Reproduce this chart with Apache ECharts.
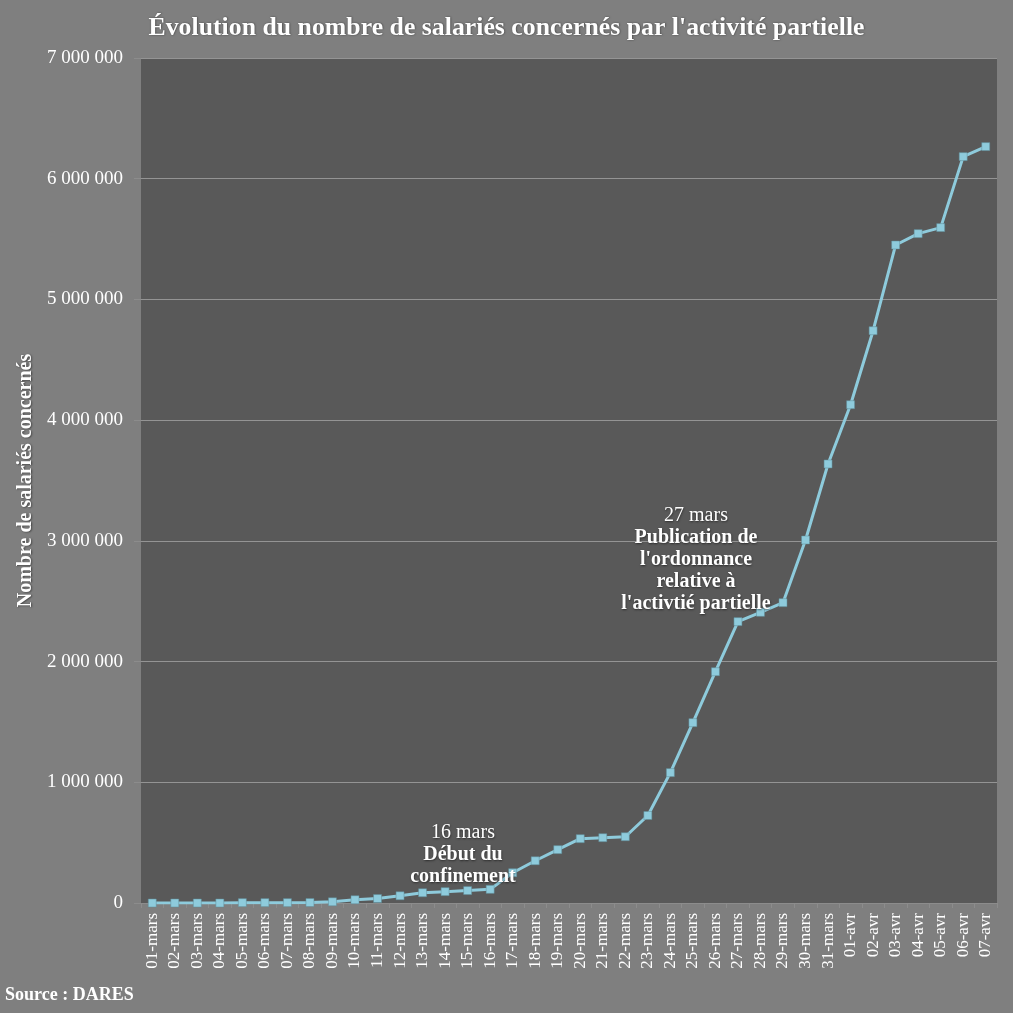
<!DOCTYPE html>
<html>
<head>
<meta charset="utf-8">
<script src="https://cdn.jsdelivr.net/npm/echarts@6/dist/echarts.min.js"></script>
<style>
html,body{margin:0;padding:0;background:#7f7f7f;}
#c{width:1013px;height:1013px;}
</style>
</head>
<body>
<div id="c"></div>
<script>
const categories = ['01-mars','02-mars','03-mars','04-mars','05-mars','06-mars','07-mars','08-mars','09-mars','10-mars',
  '11-mars','12-mars','13-mars','14-mars','15-mars','16-mars','17-mars','18-mars','19-mars','20-mars',
  '21-mars','22-mars','23-mars','24-mars','25-mars','26-mars','27-mars','28-mars','29-mars','30-mars',
  '31-mars','01-avr','02-avr','03-avr','04-avr','05-avr','06-avr','07-avr'];
const salaries = [0,0,0,0,3000,3000,3000,4000,10000,27000,
  37000,60000,85000,94000,103000,113000,251000,350000,442000,533000,
  541000,549000,725000,1080000,1494000,1916000,2331000,2408000,2488000,3007000,
  3637000,4128000,4741000,5451000,5545000,5595000,6183000,6266000];
const yTicks = {min:0, max:7000000, interval:1000000};
const title = "Évolution du nombre de salariés concernés par l'activité partielle";
const yName = 'Nombre de salariés concernés';
const source = 'Source : DARES';
const note1 = ['16 mars','Début du','confinement'];
const note2 = ['27 mars','Publication de',"l'ordonnance",'relative à',"l'activtié partielle"];

const F = 'Liberation Serif';
const shadow = {textShadowColor:'rgba(0,0,0,0.5)', textShadowBlur:2, textShadowOffsetX:0.5, textShadowOffsetY:0.5};

function fmt(v){ return String(v).replace(/\B(?=(\d{3})+(?!\d))/g,' '); }
function noteText(lines){
  return lines.map((l,i)=> i===0 ? '{a|'+l+'}' : '{b|'+l+'}').join('\n');
}
const rich = {
  a:{fontFamily:F, fontSize:20, fill:'#ffffff', lineHeight:22, ...shadow},
  b:{fontFamily:F, fontSize:20, fontWeight:'bold', fill:'#ffffff', lineHeight:22, ...shadow}
};

const chart = echarts.init(document.getElementById('c'), null, {renderer:'canvas'});
chart.setOption({
  backgroundColor:'#7f7f7f',
  animation:false,
  title:{
    text:title, left:'center', top:10,
    textStyle:{fontFamily:F, fontSize:25.8, fontWeight:'bold', color:'#ffffff', ...shadow}
  },
  grid:{left:141, right:16, top:58, bottom:110, show:true, backgroundColor:'#595959', borderWidth:0},
  xAxis:{
    type:'category', data:categories, boundaryGap:true,
    axisLine:{show:true, lineStyle:{color:'#8c8c8c', width:1}},
    axisTick:{show:true, length:5, interval:0, lineStyle:{color:'#8c8c8c'}},
    axisLabel:{interval:0, rotate:90, margin:10, fontFamily:F, fontSize:17, color:'#ffffff'}
  },
  yAxis:{
    type:'value', min:yTicks.min, max:yTicks.max, interval:yTicks.interval,
    name:yName, nameLocation:'middle', nameGap:101, nameRotate:90,
    nameTextStyle:{fontFamily:F, fontSize:20, fontWeight:'bold', color:'#ffffff', ...shadow},
    axisLine:{show:false},
    axisTick:{show:true, length:7, lineStyle:{color:'#8c8c8c'}},
    axisLabel:{margin:18, fontFamily:F, fontSize:19, color:'#ffffff', formatter:fmt},
    splitLine:{show:true, lineStyle:{color:'#949494', width:1}}
  },
  series:[{
    type:'line', data:salaries,
    symbol:'rect', symbolSize:8,
    lineStyle:{color:'#8ecbdc', width:3},
    itemStyle:{color:'#8ecbdc', borderColor:'#5f8c99', borderWidth:0.5},
    z:3
  }],
  graphic:[
    {type:'text', left:5, top:986, style:{text:source, fontFamily:F, fontSize:18, fontWeight:'bold', fill:'#ffffff'}},
    {type:'text', x:463, y:855, style:{text:noteText(note1), rich:rich, textAlign:'center', textVerticalAlign:'middle'}, z:10},
    {type:'text', x:696, y:560, style:{text:noteText(note2), rich:rich, textAlign:'center', textVerticalAlign:'middle'}, z:10}
  ]
});
</script>
</body>
</html>
